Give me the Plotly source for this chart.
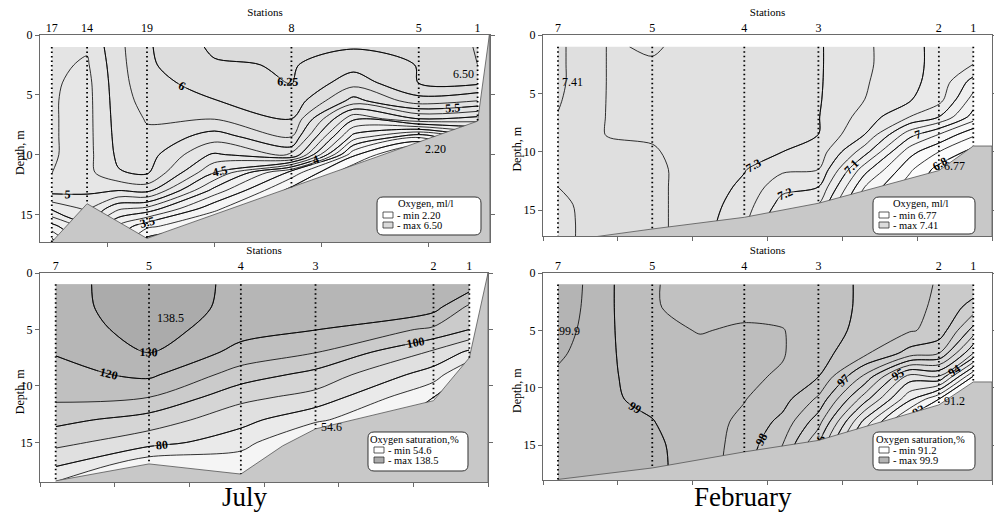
import numpy as np
import plotly.graph_objects as go

W, H = 994, 515
SERIF = "Liberation Serif, Times New Roman, serif"

# ---------------- Panel 1: July, dissolved oxygen (ml/l) ----------------
jo_station_names = ['17', '14', '19', '8', '5', '1']
jo_station_km = [-0.52, -0.19, 0.37, 1.72, 2.91, 3.46]
jo_bed_km = [-0.52, -0.19, 0.37, 3.46, 3.57]
jo_bed_depth = [17.3, 14.1, 17.0, 7.2, 0.0]
jo_grid_km = [-0.52, -0.19, 0.1, 0.37, 1.0, 1.72, 2.3, 2.91, 3.46]
jo_grid_depth = [1, 2.5, 4, 5.5, 7, 8.5, 10, 11.5, 13, 14.5, 16, 17.5]
jo_profiles = [
    [5.32, 5.30, 5.28, 5.27, 5.27, 5.27, 5.27, 5.26, 5.10, 4.55, 3.90, 3.30],
    [5.28, 5.22, 5.18, 5.17, 5.17, 5.17, 5.17, 5.17, 5.05, 4.80, 4.40, 4.10],
    [5.68, 5.66, 5.64, 5.62, 5.60, 5.58, 5.55, 5.48, 5.00, 4.30, 3.70, 3.40],
    [5.97, 5.96, 5.92, 5.85, 5.77, 5.70, 5.62, 5.54, 5.08, 4.18, 3.30, 2.80],
    [6.30, 6.22, 6.10, 5.99, 5.76, 5.38, 4.95, 4.50, 3.90, 3.30, 3.00, 2.80],
    [6.28, 6.27, 6.26, 6.18, 6.00, 5.75, 5.30, 3.40, 2.90, 2.80, 2.80, 2.80],
    [6.27, 6.10, 5.85, 5.40, 4.55, 3.90, 3.05, 2.50, 2.30, 2.30, 2.30, 2.30],
    [6.27, 6.26, 6.255, 5.90, 5.00, 3.30, 2.20, 2.20, 2.20, 2.20, 2.20, 2.20],
    [6.52, 6.50, 6.30, 5.75, 4.90, 4.00, 3.50, 3.50, 3.50, 3.50, 3.50, 3.50],
]
jo_legend = ['Oxygen, ml/l', '- min 2.20', '- max 6.50']
jo_extreme_text = ['6.50', '2.20']
jo_extreme_km = [3.33, 3.07]
jo_extreme_depth = [3.3, 9.5]

# ---------------- Panel 2: February, dissolved oxygen (ml/l) ----------------
fo_station_names = ['7', '5', '4', '3', '2', '1']
fo_station_km = [0.2, 1.46, 2.69, 3.68, 5.29, 5.75]
fo_bed_km = [0.2, 1.46, 2.69, 3.68, 5.29, 5.75, 6.0]
fo_bed_depth = [17.7, 16.6, 15.6, 14.4, 11.6, 9.5, 9.5]
fo_grid_km = [0.2, 0.9, 1.46, 2.0, 2.69, 3.2, 3.68, 4.3, 4.9, 5.29, 5.75]
fo_grid_depth = [1, 2.5, 4, 5.5, 7, 8.5, 10, 11.5, 13, 14.5, 16, 17.5]
fo_profiles = [
    [7.41, 7.41, 7.41, 7.405, 7.398, 7.385, 7.375, 7.365, 7.35, 7.342, 7.34, 7.34],
    [7.345, 7.345, 7.345, 7.345, 7.345, 7.346, 7.365, 7.37, 7.37, 7.37, 7.37, 7.37],
    [7.356, 7.345, 7.344, 7.344, 7.344, 7.345, 7.354, 7.36, 7.36, 7.36, 7.36, 7.36],
    [7.335, 7.335, 7.335, 7.335, 7.335, 7.335, 7.335, 7.335, 7.335, 7.335, 7.335, 7.335],
    [7.32, 7.32, 7.32, 7.32, 7.32, 7.318, 7.312, 7.303, 7.29, 7.275, 7.26, 7.25],
    [7.315, 7.315, 7.315, 7.312, 7.31, 7.305, 7.30, 7.26, 7.215, 7.18, 7.15, 7.15],
    [7.305, 7.305, 7.305, 7.304, 7.302, 7.30, 7.28, 7.25, 7.20, 7.15, 7.12, 7.10],
    [7.26, 7.26, 7.255, 7.25, 7.23, 7.20, 7.12, 7.02, 6.95, 6.90, 6.88, 6.88],
    [7.21, 7.21, 7.21, 7.205, 7.15, 7.02, 6.92, 6.86, 6.82, 6.80, 6.80, 6.80],
    [7.19, 7.19, 7.185, 7.17, 7.10, 6.95, 6.85, 6.78, 6.77, 6.77, 6.77, 6.77],
    [7.18, 7.15, 7.08, 7.03, 6.98, 6.86, 6.78, 6.77, 6.77, 6.77, 6.77, 6.77],
]
fo_legend = ['Oxygen, ml/l', '- min 6.77', '- max 7.41']
fo_extreme_text = ['7.41', '6.77']
fo_extreme_km = [0.39, 5.5]
fo_extreme_depth = [4.0, 11.2]

# ---------------- Panel 3: July, oxygen saturation (%) ----------------
js_station_names = ['7', '5', '4', '3', '2', '1']
js_station_km = [0.21, 1.46, 2.69, 3.69, 5.27, 5.75]
js_bed_km = [0.21, 1.46, 2.69, 3.25, 3.69, 5.27, 5.75, 6.0]
js_bed_depth = [18.4, 16.9, 17.8, 15.3, 13.8, 11.3, 7.5, 0.0]
js_grid_km = [0.21, 1.46, 2.69, 3.69, 5.27, 5.75]
js_grid_depth = [1, 3, 5, 7, 9, 11, 13, 15, 17, 19]
js_profiles = [
    [125, 124, 123, 120.6, 117, 112, 103, 93, 81, 66],
    [138, 138.5, 135, 130.3, 122, 110, 95.6, 83.9, 62, 55],
    [127, 126, 123.5, 117, 105.3, 92.7, 83.3, 74.3, 63, 56],
    [124, 123, 120.3, 110.5, 96.7, 86.6, 72, 54.6, 55, 55],
    [128, 124, 108, 88.5, 75, 60, 55, 55, 55, 55],
    [126, 108, 100, 78, 58, 55, 55, 55, 55, 55],
]
js_legend = ['Oxygen saturation,%', '- min 54.6', '- max 138.5']
js_extreme_text = ['138.5', '54.6']
js_extreme_km = [1.75, 3.9]
js_extreme_depth = [4.0, 13.6]

# ---------------- Panel 4: February, oxygen saturation (%) ----------------
fs_station_names = ['7', '5', '4', '3', '2', '1']
fs_station_km = [0.2, 1.46, 2.69, 3.68, 5.29, 5.75]
fs_bed_km = [0.2, 1.46, 2.69, 3.68, 5.29, 5.75, 6.0]
fs_bed_depth = [18.0, 17.0, 15.6, 14.6, 11.5, 9.5, 9.5]
fs_grid_km = [0.2, 0.9, 1.46, 2.1, 2.69, 3.2, 3.68, 4.3, 4.9, 5.29, 5.75]
fs_grid_depth = [1, 3, 5, 7, 9, 11, 13, 15, 17, 18.5]
fs_profiles = [
    [99.9, 99.85, 99.75, 99.6, 99.4, 99.3, 99.2, 99.2, 99.2, 99.2],
    [99.05, 99.05, 99.05, 99.05, 99.05, 99.05, 99.15, 99.2, 99.2, 99.2],
    [98.52, 98.52, 98.6, 98.7, 98.8, 98.9, 99.02, 99.1, 99.1, 99.1],
    [98.4, 98.42, 98.48, 98.6, 98.65, 98.7, 98.7, 98.75, 98.8, 98.8],
    [98.35, 98.4, 98.55, 98.6, 98.58, 98.52, 98.4, 98.3, 98.2, 98.2],
    [98.3, 98.35, 98.52, 98.53, 98.45, 98.2, 97.85, 97.5, 97.3, 97.3],
    [98.3, 98.28, 98.25, 98.2, 98.02, 97.4, 96.7, 96.0, 95.8, 95.8],
    [97.9, 97.9, 97.85, 97.6, 96.4, 95.2, 93.8, 93.0, 93.0, 93.0],
    [97.7, 97.65, 97.55, 96.8, 94.3, 93.1, 91.6, 91.3, 91.3, 91.3],
    [97.45, 97.4, 97.35, 96.5, 94.5, 92.0, 91.2, 91.2, 91.2, 91.2],
    [97.3, 96.8, 95.8, 94.5, 92.0, 91.2, 91.2, 91.2, 91.2, 91.2],
]
fs_legend = ['Oxygen saturation,%', '- min 91.2', '- max 99.9']
fs_extreme_text = ['99.9', '91.2']
fs_extreme_km = [0.36, 5.5]
fs_extreme_depth = [5.1, 11.2]

month_titles = ['July', 'February']

# ---------------- layout settings ----------------
panels = [
    dict(names=jo_station_names, st=jo_station_km, bx=jo_bed_km, bd=jo_bed_depth,
         gx=jo_grid_km, gd=jo_grid_depth, prof=jo_profiles, xr=[-0.63, 3.576], yr=17.3,
         box=(40, 490, 35, 242), fill=(2.25, 6.5, 0.25), labels=[(2.5, 6.0, 0.5), (6.25, 6.25, 0.25)],
         zr=(2.2, 6.5), cmax='#dadada', legend=jo_legend, lbox=(377, 197, 481, 235),
         ext=(jo_extreme_text, jo_extreme_km, jo_extreme_depth), tick0=0),
    dict(names=fo_station_names, st=fo_station_km, bx=fo_bed_km, bd=fo_bed_depth,
         gx=fo_grid_km, gd=fo_grid_depth, prof=fo_profiles, xr=[0, 6.0], yr=17.2,
         box=(543, 992, 35, 236), fill=(6.8, 7.4, 0.05), labels=[(6.8, 7.3, 0.1)],
         zr=(6.77, 7.41), cmax='#dcdcdc', legend=fo_legend, lbox=(873, 197, 975, 234),
         ext=(fo_extreme_text, fo_extreme_km, fo_extreme_depth), tick0=0),
    dict(names=js_station_names, st=js_station_km, bx=js_bed_km, bd=js_bed_depth,
         gx=js_grid_km, gd=js_grid_depth, prof=js_profiles, xr=[0, 6.0], yr=18.5,
         box=(40, 488, 273, 482), fill=(60, 130, 10), labels=[(60, 120, 20), (130, 130, 10)],
         zr=(54.6, 138.5), cmax='#ababab', legend=js_legend, lbox=(368, 432, 468, 471),
         ext=(js_extreme_text, js_extreme_km, js_extreme_depth), tick0=0),
    dict(names=fs_station_names, st=fs_station_km, bx=fs_bed_km, bd=fs_bed_depth,
         gx=fs_grid_km, gd=fs_grid_depth, prof=fs_profiles, xr=[0, 6.0], yr=18.05,
         box=(543, 992, 273, 480), fill=(91.5, 99.5, 0.5), labels=[(92, 99, 1)],
         zr=(91.2, 99.9), cmax='#b4b4b4', legend=fs_legend, lbox=(873, 432, 975, 470),
         ext=(fs_extreme_text, fs_extreme_km, fs_extreme_depth), tick0=0),
]

BED = '#c8c8c8'
AX = '#6a6a6a'

def px2paper(x, y):
    return x / W, 1 - y / H

def rrect_path(x0, y0, x1, y1, r=6):
    def P(x, y):
        a, b = px2paper(x, y)
        return f"{a:.5f},{b:.5f}"
    return (f"M {P(x0 + r, y0)} L {P(x1 - r, y0)} Q {P(x1, y0)} {P(x1, y0 + r)} "
            f"L {P(x1, y1 - r)} Q {P(x1, y1)} {P(x1 - r, y1)} L {P(x0 + r, y1)} "
            f"Q {P(x0, y1)} {P(x0, y1 - r)} L {P(x0, y0 + r)} Q {P(x0, y0)} {P(x0 + r, y0)} Z")

def note(x, y, text, size, xanchor='center', angle=0, xref='paper', yref='paper'):
    return dict(x=x, y=y, xref=xref, yref=yref, text=text, showarrow=False,
                xanchor=xanchor, yanchor='middle', textangle=angle,
                font=dict(family=SERIF, size=size, color='black'))

fig = go.Figure()
layout = dict(width=W, height=H, margin=dict(l=0, r=0, t=0, b=0, autoexpand=False),
              paper_bgcolor='white', plot_bgcolor='white', showlegend=False,
              font=dict(family=SERIF, color='black'))
shapes, annotations = [], []

for i, p in enumerate(panels, start=1):
    xa = 'x' if i == 1 else f'x{i}'
    ya = 'y' if i == 1 else f'y{i}'
    xs = f'x{i + 4}'
    z = np.array(p['prof']).T.tolist()
    cs = [[0, '#ffffff'], [1, p['cmax']]]
    fs, fe, fz = p['fill']
    fig.add_trace(go.Contour(
        x=p['gx'], y=p['gd'], z=z, xaxis=xa, yaxis=ya,
        colorscale=cs, zmin=p['zr'][0], zmax=p['zr'][1], zauto=False, showscale=False,
        autocontour=False,
        contours=dict(start=fs, end=fe, size=fz, coloring='fill', showlines=True, showlabels=False),
        line=dict(color='black', width=0.8, smoothing=0.9), hoverinfo='skip'))
    for (ls, le, lz) in p['labels']:
        fig.add_trace(go.Contour(
            x=p['gx'], y=p['gd'], z=z, xaxis=xa, yaxis=ya, showscale=False, autocontour=False,
            contours=dict(start=ls, end=le, size=lz, coloring='none', showlines=True, showlabels=True,
                          labelfont=dict(family=SERIF, size=12, color='black', weight='bold')),
            line=dict(color='black', width=0.8, smoothing=0.9), hoverinfo='skip'))
    # seabed
    x0, x1 = p['xr']
    bx = list(p['bx']) + [x1, p['bx'][0]]
    bd = list(p['bd']) + [p['yr'] + 0.5, p['yr'] + 0.5]
    fig.add_trace(go.Scatter(x=bx, y=bd, xaxis=xa, yaxis=ya, mode='lines', fill='toself',
                             fillcolor=BED, line=dict(color='#555555', width=0.8), hoverinfo='skip'))
    # station dotted verticals
    for s in p['st']:
        bottom = float(np.interp(s, p['bx'], p['bd']))
        fig.add_trace(go.Scatter(x=[s, s], y=[min(p['gd']), bottom], xaxis=xs, yaxis=ya, mode='lines',
                                 line=dict(color='black', width=1.8, dash='1.5px,3px'), hoverinfo='skip'))
    # extreme labels
    tx, kx, dx = p['ext']
    for t, k, d in zip(tx, kx, dx):
        annotations.append(note(k, d, t, 12, xref=xa, yref=ya))
    L, R, T, B = p['box']
    xd = [L / W, R / W]
    yd = [1 - B / H, 1 - T / H]
    layout['xaxis' if i == 1 else f'xaxis{i}'] = dict(
        domain=xd, range=p['xr'], anchor=ya, showgrid=False, zeroline=False, automargin=False,
        showline=True, linecolor=AX, linewidth=1, mirror=True, ticks='outside', ticklen=4,
        tickcolor=AX, tick0=p['tick0'], dtick=1, showticklabels=False)
    layout['yaxis' if i == 1 else f'yaxis{i}'] = dict(
        domain=yd, range=[p['yr'], 0], anchor=xa, showgrid=False, zeroline=False, automargin=False,
        showline=True, linecolor=AX, linewidth=1, mirror='ticks', ticks='outside', ticklen=4,
        tickcolor=AX, tickvals=[0, 5, 10, 15], tickfont=dict(family=SERIF, size=12))
    layout[f'xaxis{i + 4}'] = dict(
        overlaying=xa, anchor=ya, side='top', range=p['xr'], showgrid=False, zeroline=False,
        automargin=False, showline=False, ticks='', tickvals=p['st'], ticktext=p['names'],
        tickfont=dict(family=SERIF, size=12),
        title=dict(text='Stations', font=dict(family=SERIF, size=11), standoff=1))
    # depth title
    ax_, ay_ = px2paper(L - 20 if L < 100 else L - 26, T + (B - T) * 0.57)
    annotations.append(note(ax_, ay_, 'Depth, m', 12, angle=-90))
    # legend box
    lx0, ly0, lx1, ly1 = p['lbox']
    shapes.append(dict(type='path', path=rrect_path(lx0, ly0, lx1, ly1), xref='paper', yref='paper',
                       fillcolor='white', line=dict(color='#333333', width=1)))
    tx_, ty_ = px2paper((lx0 + lx1) / 2 - 4, ly0 + 7)
    annotations.append(note(tx_, ty_, p['legend'][0], 10.5))
    for j, (txt, col) in enumerate(zip(p['legend'][1:], ['white', p['cmax']])):
        ry = ly0 + 18 + j * 10
        a0, b0 = px2paper(lx0 + 6, ry - 3)
        a1, b1 = px2paper(lx0 + 16, ry + 3)
        shapes.append(dict(type='rect', x0=a0, x1=a1, y0=b1, y1=b0, xref='paper', yref='paper',
                           fillcolor=col, line=dict(color='#333333', width=0.8)))
        ta, tb = px2paper(lx0 + 18, ry)
        annotations.append(note(ta, tb, txt, 10.5, xanchor='left'))

for t, cx in zip(month_titles, [245, 743]):
    a, b = px2paper(cx, 497)
    annotations.append(note(a, b, t, 27))

layout['shapes'] = shapes
layout['annotations'] = annotations
fig.update_layout(**layout)
fig.write_html("out.html", config={'displayModeBar': False},
               post_script="document.body.style.margin='0px';document.body.style.overflow='hidden';")
